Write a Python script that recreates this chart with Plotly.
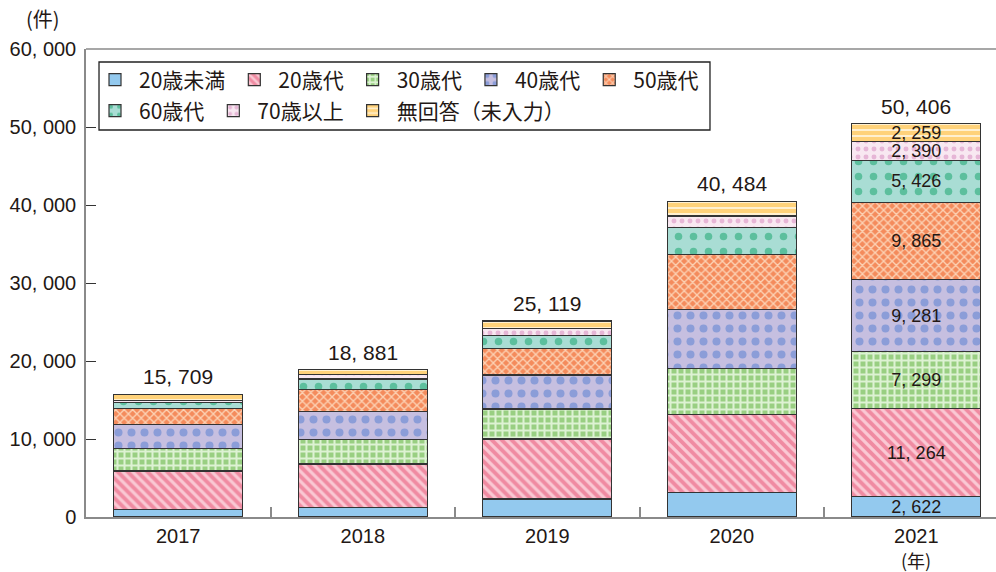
import plotly.graph_objects as go

# ---------------- data ----------------
years = ["2017", "2018", "2019", "2020", "2021"]
totals = [15709, 18881, 25119, 40484, 50406]

series_names = ["20歳未満", "20歳代", "30歳代", "40歳代", "50歳代",
                "60歳代", "70歳以上", "無回答（未入力）"]
under20 = [1000, 1250, 2300, 3150, 2622]
age20s = [4900, 5550, 7700, 10000, 11264]
age30s = [2900, 3150, 3850, 5900, 7299]
age40s = [3100, 3550, 4350, 7600, 9281]
age50s = [2050, 2850, 3450, 7050, 9865]
age60s = [750, 1350, 1650, 3400, 5426]
age70plus = [250, 600, 850, 1500, 2390]
no_answer = [759, 581, 969, 1884, 2259]
series_values = [under20, age20s, age30s, age40s, age50s, age60s, age70plus, no_answer]

labeled_year = "2021"
y_tick_values = [0, 10000, 20000, 30000, 40000, 50000, 60000]
y_tick_labels = ["0", "10, 000", "20, 000", "30, 000", "40, 000", "50, 000", "60, 000"]

# ---------------- styles ----------------
NUM_FONT = "Liberation Sans, Noto Sans CJK JP"
CJK_FONT = "Noto Sans CJK JP"
TXT = "#231815"
AXIS = "#8a8a8a"

styles = [
    dict(bg="#93C9EE", fg="#93C9EE", shape="", size=8, sol=0.3),
    dict(bg="#F08BA2", fg="#FAC9D4", shape="\\", size=7, sol=0.45),
    dict(bg="#99CF82", fg="#DDF2D3", shape="+", size=7, sol=0.5),
    dict(bg="#C6BFE0", fg="#8B9DD8", shape=".", size=13, sol=0.3),
    dict(bg="#F48B5C", fg="#FCD2B4", shape="x", size=6, sol=0.4),
    dict(bg="#A9DDD4", fg="#5CBF9D", shape=".", size=15, sol=0.2),
    dict(bg="#F8E8F1", fg="#E6B6D6", shape=".", size=8, sol=0.3),
    dict(bg="#FFD27A", fg="#FFF4DA", shape="-", size=6, sol=0.3),
]


def fmt(v):
    return f"{v:,}".replace(",", ", ")


fig = go.Figure()
for i, (name, vals, st) in enumerate(zip(series_names, series_values, styles)):
    texts = [fmt(v) if y == labeled_year else "" for y, v in zip(years, vals)]
    marker = dict(color=st["bg"], line=dict(color="#333333", width=1.2))
    if st["shape"]:
        marker["pattern"] = dict(shape=st["shape"], bgcolor=st["bg"], fgcolor=st["fg"],
                                 size=st["size"], solidity=st["sol"], fillmode="replace")
    fig.add_trace(go.Bar(
        x=years, y=vals, name=name, marker=marker, width=0.7,
        text=texts, textposition="inside", insidetextanchor="middle",
        constraintext="none", textangle=0,
        textfont=dict(family=NUM_FONT, size=18, color=TXT),
        legend="legend" if i < 5 else "legend2",
        hoverinfo="skip",
    ))

# totals above bars (x given as category index)
for idx, t in enumerate(totals):
    fig.add_annotation(x=idx, y=t, text=fmt(t), showarrow=False, xanchor="center",
                       yanchor="bottom", yshift=4,
                       font=dict(family=NUM_FONT, size=21, color=TXT))

fig.add_annotation(xref="paper", yref="paper", x=-0.047, y=1.066, text="(件)",
                   xanchor="center", yanchor="middle", showarrow=False,
                   font=dict(family=CJK_FONT, size=20, color=TXT))
fig.add_annotation(x=years.index(labeled_year), yref="paper", y=-0.0925, text="(年)",
                   xanchor="center", yanchor="middle", showarrow=False,
                   font=dict(family=CJK_FONT, size=18, color=TXT))

# top frame line
fig.add_shape(type="line", xref="paper", yref="paper", x0=0, x1=1, y0=1, y1=1,
              line=dict(color=AXIS, width=1.5))
# legend box
fig.add_shape(type="rect", xref="paper", yref="paper", x0=0.0143, x1=0.6857,
              y0=0.8269, y1=0.9722, line=dict(color="#222222", width=1.3),
              fillcolor="white", layer="below")

legend_common = dict(orientation="h", bgcolor="rgba(0,0,0,0)", borderwidth=0,
                     font=dict(family=CJK_FONT, size=21, color=TXT),
                     traceorder="normal", xanchor="left", yanchor="middle",
                     itemwidth=38, itemclick=False, itemdoubleclick=False)

fig.update_layout(
    width=996, height=572, autosize=False,
    margin=dict(l=86, r=0, t=49, b=55, pad=0),
    barmode="stack",
    plot_bgcolor="white", paper_bgcolor="white",
    showlegend=True,
    legend=dict(x=0.0055, y=0.934, **legend_common),
    legend2=dict(x=0.0055, y=0.8675, **legend_common),
    xaxis=dict(type="category", range=[-0.5, 4.432], showline=True, linecolor=AXIS,
               linewidth=1.5, ticks="inside", tickson="boundaries", ticklen=10,
               tickcolor=AXIS, tickwidth=1.5, showgrid=False, zeroline=False,
               tickfont=dict(family=NUM_FONT, size=20, color=TXT)),
    yaxis=dict(range=[0, 60000], tickvals=y_tick_values, ticktext=y_tick_labels,
               showline=True, linecolor=AXIS, linewidth=1.5, ticks="inside",
               ticklen=10, tickcolor="#333333", tickwidth=1.2, showgrid=False,
               zeroline=False, ticklabelstandoff=4,
               tickfont=dict(family=NUM_FONT, size=20, color=TXT)),
)

fig.write_html("out.html")
